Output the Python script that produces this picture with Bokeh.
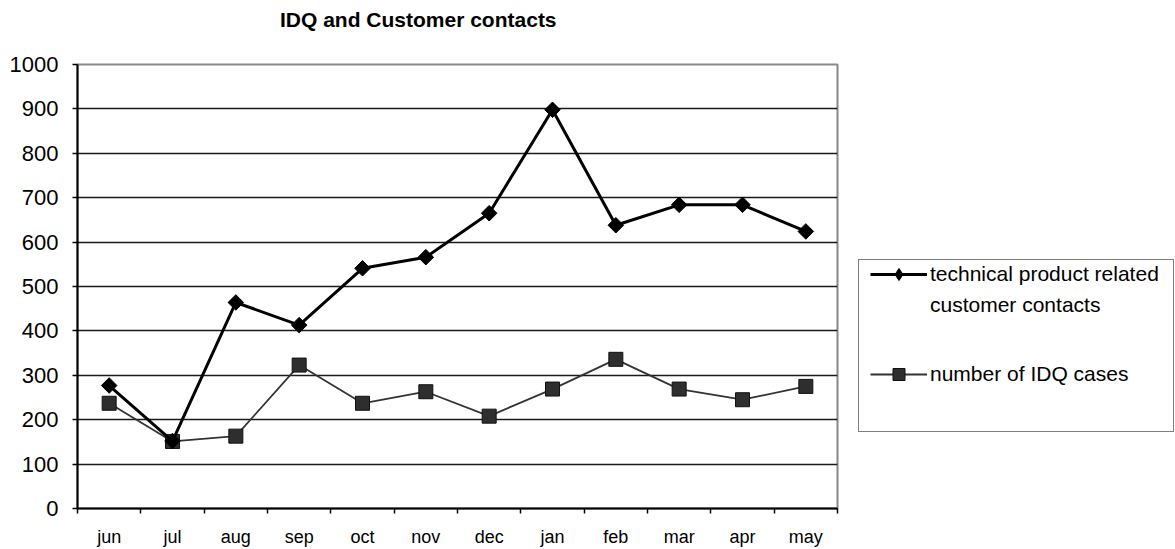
import math
from bokeh.plotting import figure
from bokeh.layouts import row, column
from bokeh.models import Range1d, FixedTicker, Legend, LegendItem, Div
from bokeh.embed import file_html
from bokeh.resources import INLINE

months = ["jun", "jul", "aug", "sep", "oct", "nov", "dec", "jan", "feb", "mar", "apr", "may"]
tech_contacts = [277, 152, 464, 413, 541, 566, 665, 898, 638, 684, 684, 624]
idq_cases = [237, 151, 163, 323, 237, 263, 208, 269, 336, 269, 245, 275]
y_ticks = list(range(0, 1001, 100))
title_text = "IDQ and Customer contacts"

xs = [i + 0.5 for i in range(len(months))]
FONT = "Liberation Sans"

TECH_LINE = dict(line_color="black", line_width=3)
TECH_MARK = dict(marker="square", angle=math.pi / 4, fill_color="black", line_color="black")
IDQ_LINE = dict(line_color="#333333", line_width=1.8)
IDQ_MARK = dict(marker="square", fill_color="#2e2e2e", line_color="#111111", line_width=1)

p = figure(width=850, height=509, output_backend="svg", toolbar_location=None, title=None,
           x_range=Range1d(0, len(months)), y_range=Range1d(0, 1000),
           min_border_left=77, min_border_right=13, min_border_top=24, min_border_bottom=40)
p.background_fill_color = "white"
p.border_fill_color = "white"
p.outline_line_color = "#888888"
p.outline_line_width = 2

# axes
p.xaxis.ticker = FixedTicker(ticks=xs, minor_ticks=list(range(len(months) + 1)))
p.xaxis.major_label_overrides = {x: m for x, m in zip(xs, months)}
p.xaxis.major_tick_line_alpha = 0
p.xaxis.minor_tick_out = 5
p.xaxis.minor_tick_in = 0
p.xaxis.minor_tick_line_color = "black"
p.xaxis.minor_tick_line_width = 1.5
p.xaxis.axis_line_color = "black"
p.xaxis.axis_line_width = 2
p.xaxis.major_label_text_font = FONT
p.xaxis.major_label_text_font_size = "18px"
p.xaxis.major_label_text_color = "black"
p.xaxis.major_label_standoff = 12

p.yaxis.ticker = FixedTicker(ticks=y_ticks)
p.yaxis.minor_tick_line_alpha = 0
p.yaxis.major_tick_out = 5
p.yaxis.major_tick_in = 0
p.yaxis.major_tick_line_color = "black"
p.yaxis.major_tick_line_width = 1.5
p.yaxis.axis_line_color = "black"
p.yaxis.axis_line_width = 2
p.yaxis.major_label_text_font = FONT
p.yaxis.major_label_text_font_size = "22px"
p.yaxis.major_label_text_color = "black"
p.yaxis.major_label_standoff = 14

p.xgrid.grid_line_alpha = 0
p.ygrid.ticker = FixedTicker(ticks=y_ticks)
p.ygrid.grid_line_color = "#1a1a1a"
p.ygrid.grid_line_width = 1.5

# series
p.line(xs, idq_cases, **IDQ_LINE)
p.scatter(xs, idq_cases, size=14, **IDQ_MARK)
p.line(xs, tech_contacts, **TECH_LINE)
p.scatter(xs, tech_contacts, size=11, **TECH_MARK)

# legend panel (separate figure to the right; its ranges keep the proxy series out of view)
q = figure(width=325, height=509, output_backend="svg", toolbar_location=None, title=None,
           x_range=Range1d(-100, -99), y_range=Range1d(-100, -99),
           x_axis_location=None, y_axis_location=None,
           min_border_left=0, min_border_right=0, min_border_top=0, min_border_bottom=0)
q.outline_line_color = None
q.xgrid.visible = False
q.ygrid.visible = False
q.background_fill_color = "white"
q.border_fill_color = "white"

tl = q.line(xs, tech_contacts, **TECH_LINE)
tm = q.scatter(xs, tech_contacts, marker="diamond", fill_color="black", line_color="black")
il = q.line(xs, idq_cases, **IDQ_LINE)
im = q.scatter(xs, idq_cases, **IDQ_MARK)
dummy = q.line(xs, idq_cases, line_alpha=0)

frame = Legend(items=[LegendItem(label=" ", renderers=[dummy])],
               location=(8, 76), padding=0, spacing=0, margin=0,
               glyph_width=1, glyph_height=171, label_height=171, label_width=313,
               label_standoff=0, border_line_color="black", border_line_width=1.2,
               background_fill_color="white", background_fill_alpha=1)
q.add_layout(frame, "center")

leg_common = dict(padding=0, margin=0, glyph_width=57, glyph_height=30, label_height=20,
                  label_standoff=3, border_line_alpha=0, background_fill_alpha=0,
                  label_text_font=FONT, label_text_font_size="21px", label_text_color="black")
leg_a = Legend(items=[LegendItem(label="technical product related", renderers=[tl, tm]),
                      LegendItem(label="customer contacts", renderers=[dummy])],
               location=(20, 188), spacing=1, **leg_common)
leg_b = Legend(items=[LegendItem(label="number of IDQ cases", renderers=[il, im])],
               location=(20, 119), spacing=0, **leg_common)
q.add_layout(leg_a, "center")
q.add_layout(leg_b, "center")

title_div = Div(text=title_text, width=1175, height=40, margin=(0, 0, 0, 0),
                styles={"font-family": FONT, "font-weight": "bold", "font-size": "21px",
                        "color": "black", "padding-left": "280px", "padding-top": "8px",
                        "box-sizing": "border-box", "line-height": "24px"})

layout = column(title_div, row(p, q, spacing=0), spacing=0)
open("out.html", "w").write(file_html(layout, INLINE))
